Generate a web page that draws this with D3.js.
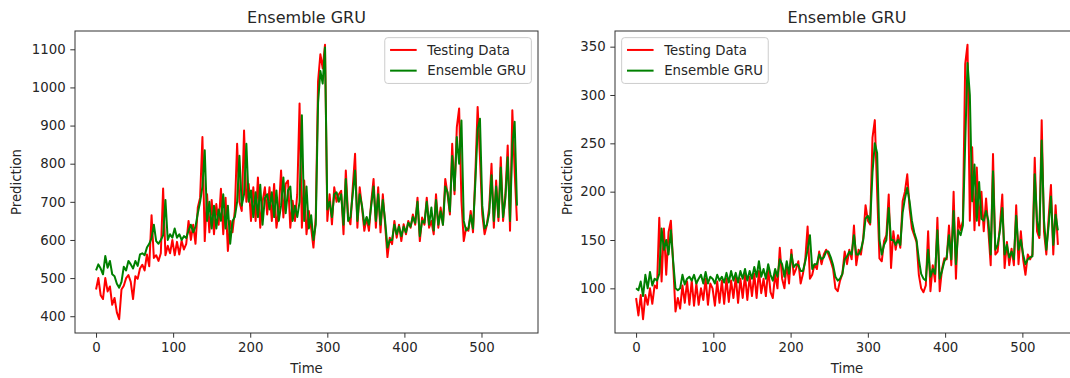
<!DOCTYPE html>
<html>
<head>
<meta charset="utf-8">
<script src="https://cdn.jsdelivr.net/npm/d3@7"></script>
<style>
  body { margin: 0; background: #fff; }
  svg { display: block; font-family: "DejaVu Sans", sans-serif; }
</style>
</head>
<body>
<svg id="chart" width="1070" height="378"></svg>
<script>
// time index between two stored samples
const step = 3;
const seriesNames = ['Testing Data', 'Ensemble GRU'];
const chartTitle = 'Ensemble GRU';
const xTicks = [0, 100, 200, 300, 400, 500];
const yTicksLeft = [400, 500, 600, 700, 800, 900, 1000, 1100];
const yTicksRight = [100, 150, 200, 250, 300, 350];

// left panel, every 3 time steps
const testLeft = [
  470, 500, 455, 445, 500, 465, 478, 430, 448, 410,
  392, 470, 480, 500, 508, 490, 445, 505, 498, 525,
  535, 520, 562, 531, 665, 553, 560, 545, 565, 735,
  560, 585, 565, 600, 560, 595, 562, 598, 575, 590,
  650, 600, 640, 590, 685, 711, 870, 597, 720, 620,
  705, 615, 694, 640, 734, 615, 711, 571, 650, 620,
  676, 852, 700, 676, 887, 700, 747, 650, 738, 650,
  764, 632, 700, 738, 667, 738, 650, 747, 632, 676,
  782, 659, 747, 756, 632, 703, 650, 720, 958, 632,
  756, 615, 676, 632, 580, 659, 1016, 1087, 1050, 1112,
  650, 720, 641, 738, 700, 720, 729, 615, 782, 660,
  641, 738, 826, 632, 738, 685, 624, 659, 624, 700,
  760, 632, 738, 620, 720, 640, 555, 606, 589, 650,
  606, 640, 597, 641, 615, 650, 632, 667, 640, 711,
  597, 659, 640, 711, 632, 650, 615, 720, 632, 685,
  640, 760, 720, 667, 852, 720, 896, 945, 703, 597,
  632, 624, 676, 620, 773, 949, 817, 667, 615, 640,
  685, 800, 632, 756, 650, 817, 650, 720, 848, 624,
  940, 780, 650
];
const predLeft = [
  520, 536, 525, 510, 558, 527, 545, 510, 505, 485,
  475, 490, 530, 520, 545, 536, 525, 545, 532, 562,
  565, 560, 580, 590, 605, 640, 597, 590, 600, 612,
  705, 600, 615, 606, 630, 606, 615, 600, 610, 605,
  625, 640, 620, 635, 670, 700, 740, 835, 650, 700,
  630, 690, 630, 680, 650, 720, 630, 690, 590, 650,
  660, 700, 821, 690, 720, 852, 700, 730, 660, 725,
  660, 745, 640, 710, 720, 680, 725, 660, 730, 650,
  690, 764, 670, 730, 740, 650, 690, 660, 700, 927,
  650, 740, 630, 665, 600, 640, 960, 1043, 1010, 1105,
  680, 700, 660, 720, 725, 700, 720, 640, 760, 650,
  660, 720, 782, 650, 720, 690, 640, 660, 640, 690,
  740, 650, 720, 640, 705, 650, 580, 600, 600, 640,
  615, 635, 610, 635, 620, 645, 635, 660, 645, 700,
  610, 650, 645, 700, 640, 685, 625, 705, 640, 675,
  640, 740, 725, 675, 820, 730, 870, 800, 913, 650,
  625, 630, 665, 630, 750, 890, 918, 690, 630, 640,
  670, 770, 650, 740, 660, 790, 660, 710, 817, 650,
  850, 910, 690
];

// right panel
const testRight = [
  90, 72, 93, 68, 93, 83, 100, 84, 103, 100,
  173, 107, 162, 114, 158, 170, 125, 76, 90, 79,
  103, 85, 107, 83, 108, 82, 105, 83, 100, 88,
  110, 83, 105, 100, 82, 107, 85, 108, 84, 110,
  86, 108, 90, 112, 85, 110, 90, 114, 88, 112,
  92, 115, 90, 118, 95, 110, 92, 120, 96, 90,
  115, 100, 142, 110, 100, 125, 105, 140, 114, 120,
  128, 105, 115, 130, 164, 110, 114, 125, 120, 138,
  125, 135, 140, 135, 128, 120, 100, 97, 108, 115,
  138, 125, 140, 130, 165, 124, 140, 135, 152, 186,
  170, 166, 256, 274, 200, 131, 128, 149, 155, 197,
  121, 159, 140, 155, 142, 190, 200, 218, 183, 162,
  155, 148, 114, 100, 96, 103, 159, 97, 124, 107,
  173, 97, 120, 131, 130, 165, 124, 200, 110, 173,
  160, 170, 332, 352, 170, 246, 160, 225, 165, 200,
  159, 193, 160, 124, 239, 135, 138, 165, 197, 121,
  148, 124, 141, 124, 186, 125, 159, 130, 114, 135,
  130, 135, 235, 159, 152, 274, 159, 135, 173, 207,
  135, 186, 145
];
const predRight = [
  100, 98, 107, 92, 114, 100, 117, 103, 110, 108,
  115, 162, 140, 150, 135, 160, 128, 100, 98, 100,
  114, 104, 110, 112, 108, 114, 105, 110, 114, 105,
  117, 105, 112, 110, 105, 114, 108, 112, 106, 116,
  106, 118, 108, 116, 106, 118, 110, 120, 108, 118,
  110, 122, 112, 128, 112, 120, 110, 125, 114, 108,
  120, 112, 130, 125, 112, 128, 115, 135, 122, 125,
  124, 118, 118, 128, 140, 155, 120, 125, 125, 135,
  130, 132, 138, 138, 132, 124, 112, 108, 110, 115,
  130, 133, 138, 135, 155, 135, 135, 140, 150, 172,
  175, 168, 220, 250, 240, 150, 135, 145, 150, 183,
  150, 150, 145, 150, 145, 178, 193, 204, 190, 170,
  158, 150, 130, 115, 110, 108, 140, 112, 120, 115,
  160, 110, 118, 128, 132, 155, 130, 180, 125, 160,
  155, 165, 250, 333, 300, 190, 228, 170, 210, 172,
  170, 180, 170, 135, 221, 140, 145, 160, 183, 135,
  145, 132, 138, 130, 175, 140, 150, 135, 125, 130,
  132, 133, 218, 170, 155, 253, 170, 140, 165, 195,
  145, 176, 160
];

const colors = ['#ff0000', '#008000'];
const fontSize = 13.3;
const textColor = '#262626';
const axTop = 31, axBottom = 333;

const panels = [
  { test: testLeft, pred: predLeft, yTicks: yTicksLeft, x0: 75, x1: 538, legendSide: 'right', yLabelX: 21 },
  { test: testRight, pred: predRight, yTicks: yTicksRight, x0: 615, x1: 1079, legendSide: 'left', yLabelX: 572 }
];

const svg = d3.select('#chart');
svg.append('rect').attr('width', 1070).attr('height', 378).attr('fill', '#fff');

panels.forEach(p => drawPanel(p));

function drawPanel(p) {
  const tMax = (p.test.length - 1) * step;
  const x = d3.scaleLinear()
    .domain([-0.05 * tMax, 1.05 * tMax])
    .range([p.x0, p.x1]);

  const [lo, hi] = d3.extent(p.test.concat(p.pred));
  const pad = 0.05 * (hi - lo);
  const y = d3.scaleLinear()
    .domain([lo - pad, hi + pad])
    .range([axBottom, axTop]);

  const g = svg.append('g');

  // lines: testing data first, prediction on top
  const line = d3.line()
    .x((d, i) => x(i * step))
    .y(d => y(d));

  [p.test, p.pred].forEach((series, k) => {
    g.append('path')
      .datum(series)
      .attr('d', line)
      .attr('fill', 'none')
      .attr('stroke', colors[k])
      .attr('stroke-width', 2)
      .attr('stroke-linejoin', 'round');
  });

  // axes
  const xAxis = g.append('g')
    .attr('transform', `translate(0,${axBottom})`)
    .call(d3.axisBottom(x).tickValues(xTicks).tickSize(4.7).tickPadding(5).tickFormat(d3.format('d')));
  const yAxis = g.append('g')
    .attr('transform', `translate(${p.x0},0)`)
    .call(d3.axisLeft(y).tickValues(p.yTicks).tickSize(4.7).tickPadding(4.7).tickFormat(d3.format('d')));

  [xAxis, yAxis].forEach(ax => {
    ax.select('.domain').remove();
    ax.attr('font-family', null).attr('font-size', fontSize);
    ax.selectAll('line').attr('stroke', '#333').attr('stroke-width', 1);
    ax.selectAll('text').attr('fill', textColor);
  });

  // frame
  g.append('rect')
    .attr('x', p.x0)
    .attr('y', axTop)
    .attr('width', p.x1 - p.x0)
    .attr('height', axBottom - axTop)
    .attr('fill', 'none')
    .attr('stroke', '#333')
    .attr('stroke-width', 1);

  // title and labels
  g.append('text')
    .attr('x', (p.x0 + p.x1) / 2)
    .attr('y', 23)
    .attr('text-anchor', 'middle')
    .attr('font-size', 16)
    .attr('fill', textColor)
    .text(chartTitle);

  g.append('text')
    .attr('x', (p.x0 + p.x1) / 2)
    .attr('y', 373)
    .attr('text-anchor', 'middle')
    .attr('font-size', fontSize)
    .attr('fill', textColor)
    .text('Time');

  g.append('text')
    .attr('transform', `translate(${p.yLabelX},${(axTop + axBottom) / 2}) rotate(-90)`)
    .attr('text-anchor', 'middle')
    .attr('font-size', fontSize)
    .attr('fill', textColor)
    .text('Prediction');

  // legend
  const legend = g.append('g');
  const box = legend.append('rect');
  const labels = seriesNames.map((name, k) => legend.append('text')
    .attr('font-size', fontSize)
    .attr('fill', textColor)
    .attr('dy', '0.35em')
    .text(name));
  const textW = d3.max(labels, t => t.node().getComputedTextLength());
  const padIn = 0.4 * fontSize, handleLen = 2 * fontSize, handlePad = 0.8 * fontSize;
  const boxW = padIn + handleLen + handlePad + textW + padIn;
  const boxTop = axTop + 0.5 * fontSize;
  const boxLeft = p.legendSide === 'right' ? p.x1 - 0.5 * fontSize - boxW : p.x0 + 0.5 * fontSize;
  const rowY = [boxTop + 12.3, boxTop + 33];

  box.attr('x', boxLeft).attr('y', boxTop)
    .attr('width', boxW).attr('height', 45.8)
    .attr('rx', 3)
    .attr('fill', '#fff').attr('fill-opacity', 0.8)
    .attr('stroke', '#cccccc').attr('stroke-width', 1);

  seriesNames.forEach((name, k) => {
    legend.append('line')
      .attr('x1', boxLeft + padIn)
      .attr('x2', boxLeft + padIn + handleLen)
      .attr('y1', rowY[k]).attr('y2', rowY[k])
      .attr('stroke', colors[k])
      .attr('stroke-width', 2);
    labels[k]
      .attr('x', boxLeft + padIn + handleLen + handlePad)
      .attr('y', rowY[k]);
  });
}
</script>
</body>
</html>
